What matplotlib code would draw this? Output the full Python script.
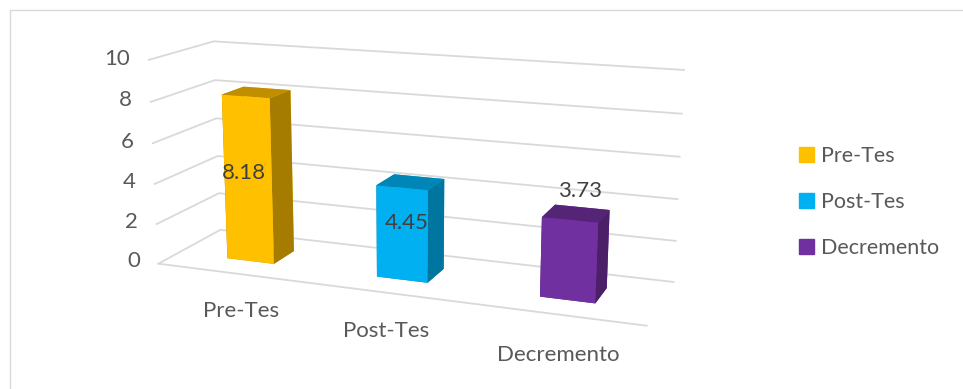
import matplotlib.pyplot as plt
import numpy as np
from matplotlib.patches import Patch, Rectangle

# data
categories = ["Pre-Tes", "Post-Tes", "Decremento"]
values = [8.18, 4.45, 3.73]
value_labels = ["8.18", "4.45", "3.73"]
z_ticks = [0, 2, 4, 6, 8, 10]

front_colors = ["#FFC000", "#00B0F0", "#7030A0"]
side_colors = ["#A57C00", "#0075A0", "#4B2069"]
top_colors = ["#C08F00", "#0086B6", "#552477"]

plt.rcParams['font.family'] = ['Lato', 'DejaVu Sans']
text_color = "#595959"
grid_color = "#D9D9D9"

fig = plt.figure(figsize=(9.63, 3.89), dpi=100)
fig.patches.append(Rectangle((10 / 963, -0.1), 1.2, 1 - 10 / 389 + 0.1,
                             transform=fig.transFigure, fill=False,
                             edgecolor=grid_color, linewidth=1.0))

ax = fig.add_axes([0.004, 0.099, 0.835, 0.9], projection='3d')
ax.computed_zorder = False
# zoom enlarges the box in world units, so the focal length is raised with it
ax.set_proj_type('persp', focal_length=0.72)
ax.view_init(elev=14, azim=-69)
ax.set_box_aspect((3.58, 0.93, 1.5), zoom=1.58)

x_max, y_max = 3, 1
ax.set_xlim(0, x_max)
ax.set_ylim(0, y_max)
ax.set_zlim(0, 10)

# gridlines on the side wall and the back wall
for z in z_ticks:
    ax.plot([0, 0, x_max], [0, y_max, y_max], [z, z, z], color=grid_color,
            linewidth=1.3, zorder=1, clip_on=False)

bar_w = 0.32
bar_d = 0.36
xs = np.arange(len(categories)) + 0.5

# faces: -z, +z, -y, +y, -x, +x
for i, v in enumerate(values):
    fc = [top_colors[i], top_colors[i], front_colors[i], front_colors[i],
          side_colors[i], side_colors[i]]
    bars = ax.bar3d(xs[i] - bar_w / 2, 0.5 - bar_d / 2, 0, bar_w, bar_d, v,
                    color=fc, shade=False, edgecolor='none', zorder=2)
    bars.set_clip_on(False)

# data labels
label_z = [4.4, 2.8, 5.1]
label_dx = [-0.03, 0.03, 0.05]
for i, v in enumerate(values):
    ax.text(xs[i] + label_dx[i], 0.5 - bar_d / 2, label_z[i], value_labels[i],
            ha='center', va='center', fontsize=16, color="#404040", zorder=10)

# category labels under the floor edge
cat_dx = [0.06, 0.0, 0.02]
for i, c in enumerate(categories):
    ax.text(xs[i] + cat_dx[i], 0, -1.85, c, ha='center', va='center',
            fontsize=16, color=text_color)

# value axis labels on the left wall edge
for z in z_ticks:
    ax.text(-0.13, 0, z, str(z), ha='right', va='center',
            fontsize=16, color=text_color)

ax.set_xticks([])
ax.set_yticks([])
ax.set_zticks([])

for axis in (ax.xaxis, ax.yaxis, ax.zaxis):
    axis.set_pane_color((1, 1, 1, 0))
    axis.pane.set_edgecolor((1, 1, 1, 0))
    axis.label.set_visible(False)
    axis.offsetText.set_visible(False)
for t in (ax.title, ax._left_title, ax._right_title):
    t.set_visible(False)
ax.xaxis.line.set_color(grid_color)
ax.xaxis.line.set_linewidth(1.3)
ax.yaxis.line.set_color((1, 1, 1, 0))
ax.zaxis.line.set_color((1, 1, 1, 0))

handles = [Patch(color=c) for c in front_colors]
fig.legend(handles, categories, loc='center left', bbox_to_anchor=(0.81, 0.48),
           frameon=False, fontsize=15.5, handlelength=0.7, handleheight=0.7,
           handletextpad=0.3, labelspacing=1.2, labelcolor=text_color)

plt.savefig("out.png", dpi=100)
